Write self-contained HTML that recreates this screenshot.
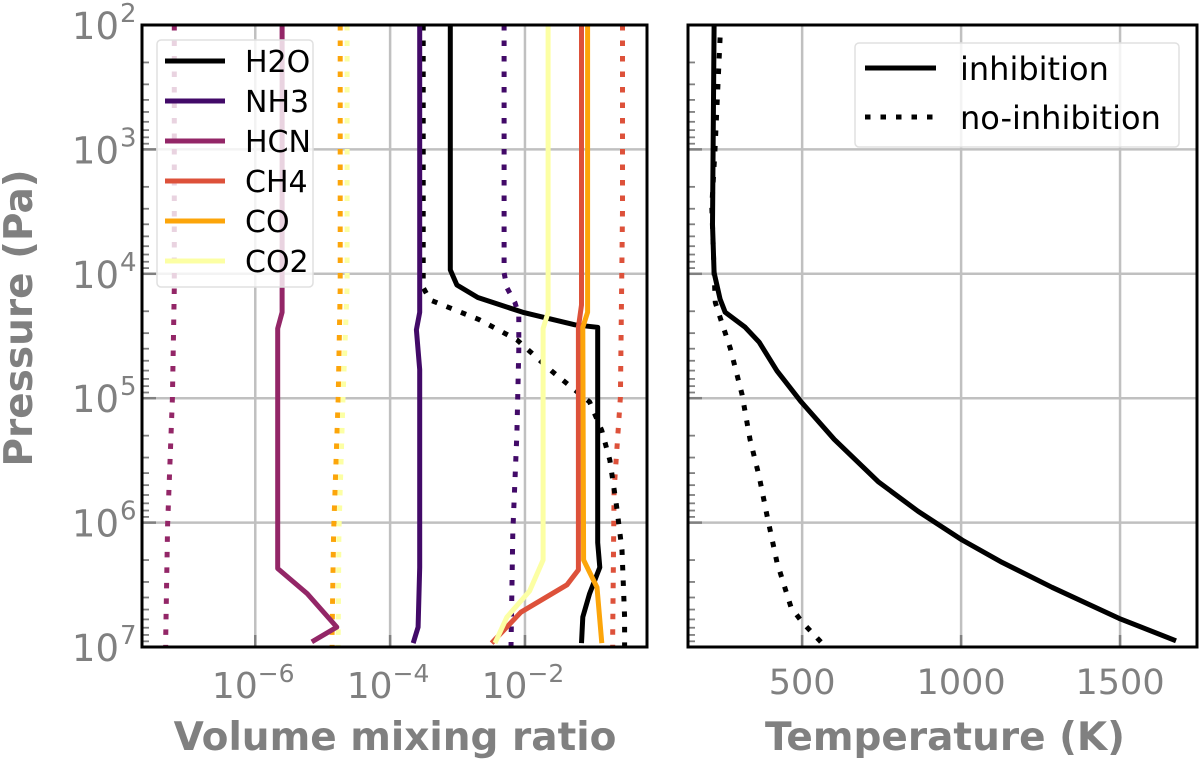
<!DOCTYPE html>
<html><head><meta charset="utf-8"><style>
html,body{margin:0;padding:0;background:#fff;width:1200px;height:764px;overflow:hidden}
svg{display:block;font-family:"DejaVu Sans","Liberation Sans",sans-serif}
</style></head><body>
<svg id="c" width="1200" height="764" viewBox="0 0 1200 764"></svg>
<script>
// ---- data (pressure in Pa, VMR, temperature in K) ----
const species = ['H2O','NH3','HCN','CH4','CO','CO2'];
const colors = ['#000000','#420a68','#932667','#dd513a','#fca50a','#fcffa4'];
const h2oP = [1e2,9.3e3,1.23e4,1.55e4,2.04e4,2.57e4,2.69e4,1.45e6,2.29e6,3.72e6,5.75e6,9.3e6];
const h2oX = [7.8e-4,7.8e-4,9.8e-4,2.0e-3,9.3e-3,5.5e-2,0.12,0.12,0.129,0.091,0.072,0.069];
const h2oNP = [1e2,1.29e4,1.62e4,2.34e4,3.39e4,6.17e4,1.07e5,1.82e5,3.16e5,7.41e5,1.66e6,5.75e6,1e7];
const h2oNX = [3.1e-4,3.1e-4,3.9e-4,2.1e-3,7.6e-3,2.6e-2,9.1e-2,0.138,0.182,0.229,0.275,0.30,0.30];
const nh3P = [1e2,2.04e4,2.82e4,5.89e4,2.29e6,6.92e6,9.3e6];
const nh3X = [2.75e-4,2.75e-4,2.45e-4,2.75e-4,2.75e-4,2.6e-4,2.2e-4];
const nh3NP = [1e2,9.8e3,1.29e4,1.7e4,2.14e4,4.07e4,1.91e5,1.2e6,1e7];
const nh3NX = [4.9e-3,4.9e-3,5.4e-3,7.1e-3,8.1e-3,8.1e-3,7.6e-3,6.6e-3,6.2e-3];
const hcnP = [1e2,1.29e4,2.04e4,2.75e4,2.34e6,3.72e6,6.92e6,9.1e6];
const hcnX = [2.5e-6,2.5e-6,2.5e-6,2.15e-6,2.15e-6,5.9e-6,1.62e-5,6.9e-6];
const hcnNP = [1e2,1.29e4,1e5,1.05e6,8.5e6,1e7];
const hcnNX = [6.3e-8,6.3e-8,5.9e-8,5.0e-8,4.7e-8,4.7e-8];
const ch4P = [1e2,1.78e4,2.69e4,2.4e6,3.16e6,5.25e6,9.3e6];
const ch4X = [6.9e-2,6.9e-2,6.2e-2,6.2e-2,4.2e-2,8.7e-3,3.2e-3];
const ch4NP = [1e2,3.09e3,9.8e4,5.5e5,7.76e6,1e7];
const ch4NX = [0.28,0.28,0.26,0.21,0.20,0.20];
const coP = [1e2,2.04e4,2.69e4,2.0e6,3.31e6,9.3e6];
const coX = [8.5e-2,8.5e-2,7.2e-2,7.4e-2,0.117,0.138];
const coNP = [1e2,1.29e4,1e5,1.2e6,7.8e6,1e7];
const coNX = [1.82e-5,1.82e-5,1.7e-5,1.45e-5,1.38e-5,1.38e-5];
const co2P = [1e2,2.04e4,2.75e4,2.0e6,3.55e6,5.75e6,9.3e6];
const co2X = [2.2e-2,2.2e-2,1.86e-2,1.86e-2,1.17e-2,5.4e-3,3.6e-3];
const co2NP = [1e2,1.29e4,1e5,1.2e6,7.8e6,1e7];
const co2NX = [2.3e-5,2.3e-5,2.0e-5,1.74e-5,1.7e-5,1.7e-5];
const tInhP = [1e2,4e3,9.8e3,1.6e4,2.04e4,2.69e4,3.55e4,6.03e4,1.07e5,2.14e5,4.68e5,8.13e5,1.38e6,2.09e6,3.31e6,5.89e6,8.91e6];
const tInhT = [223,218,223,242,258,321,365,421,497,601,739,865,1003,1129,1286,1497,1676];
const tNoP = [1.26e2,1e3,2.88e3,9.8e3,1.7e4,2.24e4,3.98e4,9.3e4,2.14e5,4.27e5,8.91e5,2.09e6,4.79e6,6.31e6,9.33e6];
const tNoT = [242,226,216,223,227,242,274,311,336,365,390,421,465,500,563];
const yTickExp = [2,3,4,5,6,7];
const xTickExpL = [-6,-4,-2];
const xTicksR = [500,1000,1500];
const legendL = ['H2O','NH3','HCN','CH4','CO','CO2'];
const legendR = ['inhibition','no-inhibition'];

// ---- layout ----
const NS='http://www.w3.org/2000/svg';
const svg=document.getElementById('c');
const yTop=25,yBot=647;
const L={x0:142,x1:647,lmin:-7.68,lmax:-0.19};
const R={x0:688,x1:1197,tmin:141,tmax:1742};
function yP(p){return yTop+(Math.log10(p)-2)/5*(yBot-yTop);}
function xL(v){return L.x0+(Math.log10(v)-L.lmin)/(L.lmax-L.lmin)*(L.x1-L.x0);}
function xR(t){return R.x0+(t-R.tmin)/(R.tmax-R.tmin)*(R.x1-R.x0);}
function mk(tag,attrs,parent){const e=document.createElementNS(NS,tag);for(const k in attrs)e.setAttribute(k,attrs[k]);(parent||svg).appendChild(e);return e;}
const DOT='5.5 10';

function panel(x0,x1,name){
  const g=mk('g',{});
  
  
  yTickExp.forEach(e=>{const y=yP(Math.pow(10,e));
    const l=mk('line',{x1:x0,x2:x1,y1:y,y2:y,stroke:'#c0c0c0','stroke-width':2.5},g);
    
    
    mk('line',{x1:x0,x2:x0+14,y1:y,y2:y,stroke:'#808080','stroke-width':2.5},g);
  });
  for(let e=2;e<7;e++)for(let m=2;m<10;m++){const y=yP(m*Math.pow(10,e));
    mk('line',{x1:x0,x2:x0+7,y1:y,y2:y,stroke:'#808080','stroke-width':1.8},g);}
  return g;
}
const gl=panel(L.x0,L.x1,'left-panel');
xTickExpL.forEach(e=>{const x=xL(Math.pow(10,e));
  const l=mk('line',{x1:x,x2:x,y1:yTop,y2:yBot,stroke:'#c0c0c0','stroke-width':2.5},gl);
  
  
  mk('line',{x1:x,x2:x,y1:yBot-12,y2:yBot,stroke:'#808080','stroke-width':2.5},gl);
  const t=mk('text',{x:x-2,y:698,'text-anchor':'middle','font-size':36,fill:'#808080'},gl);
  
  
  t.innerHTML='10<tspan dy="-16" font-size="25">\u2212'+Math.abs(e)+'</tspan>';
});
const gr=panel(R.x0,R.x1,'right-panel');
xTicksR.forEach(v=>{const x=xR(v);
  const l=mk('line',{x1:x,x2:x,y1:yTop,y2:yBot,stroke:'#c0c0c0','stroke-width':2.5},gr);
  
  
  mk('line',{x1:x,x2:x,y1:yBot-12,y2:yBot,stroke:'#808080','stroke-width':2.5},gr);
  const t=mk('text',{x:x,y:694,'text-anchor':'middle','font-size':35,fill:'#808080'},gr);
  
  
  t.textContent=v;
});
yTickExp.forEach(e=>{const y=yP(Math.pow(10,e));
  const t=mk('text',{x:119,y:y+14,'text-anchor':'end','font-size':37,fill:'#808080'});
  
  
  t.textContent='10';
  const s=mk('text',{x:120,y:y-3,'font-size':26,fill:'#808080'});
  
  
  s.textContent=e;
});

function line(xs,ps,fx,color,dashed,name,parent){
  const d=xs.map((v,i)=>(i?'L':'M')+fx(v).toFixed(1)+','+yP(ps[i]).toFixed(1)).join('');
  const a={d:d,fill:'none',stroke:color,'stroke-width':5,'stroke-linejoin':'round'};
  if(dashed)a['stroke-dasharray']=DOT;
  const p=mk('path',a,parent);
  
  
}
const defs=mk('defs',{});
const clipL=mk('clipPath',{id:'cl'},defs);mk('rect',{x:L.x0,y:yTop,width:L.x1-L.x0,height:yBot-yTop},clipL);
const sl=mk('g',{'clip-path':'url(#cl)'});
line(hcnNX,hcnNP,xL,colors[2],true,'hcn-no-inhibition-line',sl);
line(coNX,coNP,xL,colors[4],true,'co-no-inhibition-line',sl);
line(co2NX,co2NP,xL,colors[5],true,'co2-no-inhibition-line',sl);
line(ch4NX,ch4NP,xL,colors[3],true,'ch4-no-inhibition-line',sl);
line(nh3NX,nh3NP,xL,colors[1],true,'nh3-no-inhibition-line',sl);
line(h2oNX,h2oNP,xL,colors[0],true,'h2o-no-inhibition-line',sl);
line(h2oX,h2oP,xL,colors[0],false,'h2o-inhibition-line',sl);
line(nh3X,nh3P,xL,colors[1],false,'nh3-inhibition-line',sl);
line(hcnX,hcnP,xL,colors[2],false,'hcn-inhibition-line',sl);
line(ch4X,ch4P,xL,colors[3],false,'ch4-inhibition-line',sl);
line(coX,coP,xL,colors[4],false,'co-inhibition-line',sl);
line(co2X,co2P,xL,colors[5],false,'co2-inhibition-line',sl);
line(tNoT,tNoP,xR,'#000',true,'temperature-no-inhibition-line',gr);
line(tInhT,tInhP,xR,'#000',false,'temperature-inhibition-line',gr);

const lg=mk('g',{});


mk('rect',{x:157,y:40,width:156,height:247,rx:4,fill:'#fff','fill-opacity':0.8,stroke:'#e0e0e0','stroke-width':1.5},lg);
legendL.forEach((s,i)=>{const y=61+i*40;
  const l=mk('line',{x1:165,x2:225,y1:y,y2:y,stroke:colors[i],'stroke-width':5},lg);
  
  
  const t=mk('text',{x:245,y:y+11,'font-size':30,fill:'#000'},lg);
  
  
  t.textContent=s;
});
const lg2=mk('g',{});


mk('rect',{x:855,y:43,width:324,height:104,rx:4,fill:'#fff','fill-opacity':0.8,stroke:'#e0e0e0','stroke-width':1.5},lg2);
legendR.forEach((s,i)=>{const y=68+i*49;
  const a={x1:865,x2:936,y1:y,y2:y,stroke:'#000','stroke-width':5};
  if(i)a['stroke-dasharray']=DOT;
  const l=mk('line',a,lg2);
  
  
  const t=mk('text',{x:960,y:y+12,'font-size':32,fill:'#000'},lg2);
  
  
  t.textContent=s;
});

[[L.x0,L.x1,'left-frame'],[R.x0,R.x1,'right-frame']].forEach(f=>{
  const r=mk('rect',{x:f[0],y:yTop,width:f[1]-f[0],height:yBot-yTop,fill:'none',stroke:'#000','stroke-width':3});
  
  
});
const t1=mk('text',{x:395,y:750,'text-anchor':'middle','font-size':39,'font-weight':'bold',fill:'#808080'});


t1.textContent='Volume mixing ratio';
const t2=mk('text',{x:945,y:750,'text-anchor':'middle','font-size':39,'font-weight':'bold',fill:'#808080'});


t2.textContent='Temperature (K)';
const t3=mk('text',{x:0,y:0,'text-anchor':'middle','font-size':39,'font-weight':'bold',fill:'#808080',transform:'translate(32,318) rotate(-90)'});


t3.textContent='Pressure (Pa)';
</script>
</body></html>
